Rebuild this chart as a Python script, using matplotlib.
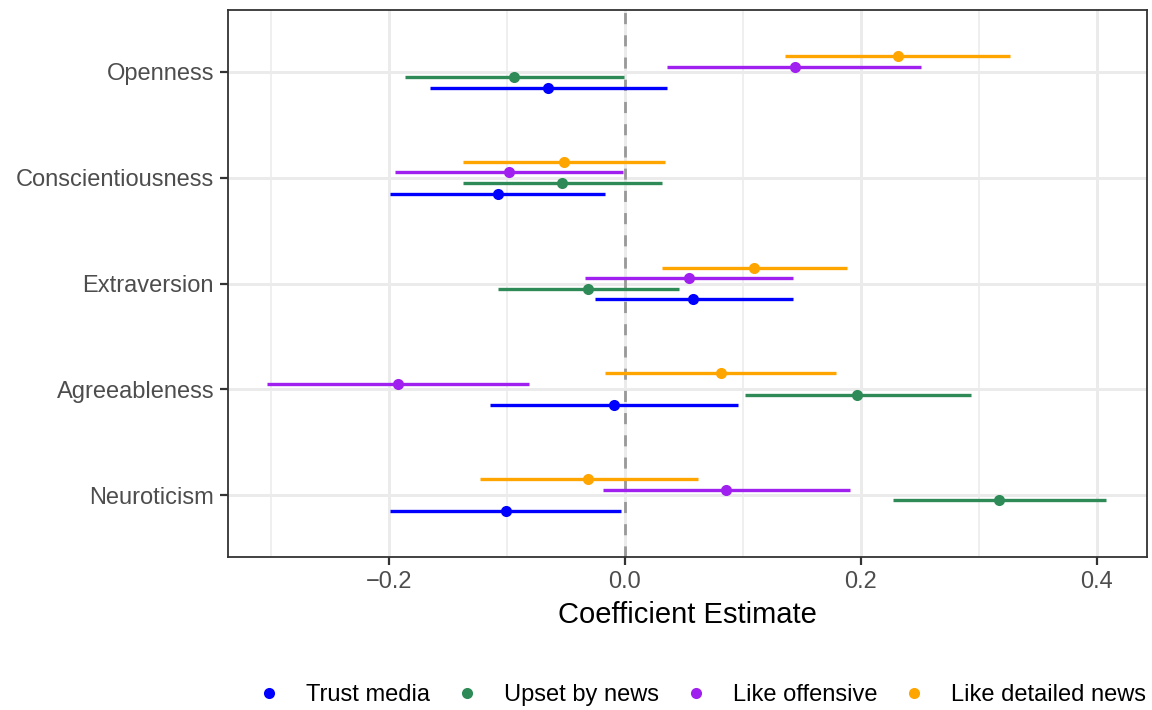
import matplotlib
matplotlib.use("Agg")
import matplotlib.pyplot as plt
from matplotlib.lines import Line2D
import numpy as np

plt.rcParams['font.family'] = ['Liberation Sans', 'DejaVu Sans']

traits = ["Openness", "Conscientiousness", "Extraversion", "Agreeableness", "Neuroticism"]
series = ["Trust media", "Upset by news", "Like offensive", "Like detailed news"]
colors = ["#0000FF", "#2E8B57", "#A020F0", "#FFA500"]

trust_est = [-0.065, -0.108, 0.058, -0.009, -0.101]
trust_lo = [-0.165, -0.199, -0.025, -0.114, -0.199]
trust_hi = [0.036, -0.017, 0.142, 0.096, -0.003]

upset_est = [-0.094, -0.053, -0.031, 0.197, 0.317]
upset_lo = [-0.186, -0.137, -0.108, 0.102, 0.227]
upset_hi = [-0.001, 0.031, 0.046, 0.293, 0.408]

offensive_est = [0.144, -0.098, 0.054, -0.192, 0.086]
offensive_lo = [0.036, -0.195, -0.034, -0.303, -0.019]
offensive_hi = [0.251, -0.002, 0.142, -0.081, 0.191]

detailed_est = [0.231, -0.052, 0.109, 0.081, -0.031]
detailed_lo = [0.136, -0.137, 0.031, -0.017, -0.123]
detailed_hi = [0.326, 0.034, 0.188, 0.179, 0.062]

est = [trust_est, upset_est, offensive_est, detailed_est]
lo = [trust_lo, upset_lo, offensive_lo, detailed_lo]
hi = [trust_hi, upset_hi, offensive_hi, detailed_hi]
offsets = [0.15, 0.05, -0.05, -0.15]

fig = plt.figure(figsize=(11.52, 7.10), dpi=100)
ax = fig.add_axes([228/1152, 1-557/710, (1147-228)/1152, (557-10)/710])

xlim = (-0.3364, 0.4424)
ax.set_xlim(*xlim)
ax.set_ylim(4.586, -0.586)

# grid
for xv in [-0.3, -0.1, 0.1, 0.3]:
    ax.axvline(xv, color="#EBEBEB", lw=1.1, zorder=0)
for xv in [-0.2, 0.0, 0.2, 0.4]:
    ax.axvline(xv, color="#EBEBEB", lw=2.1, zorder=0)
for yv in range(5):
    ax.axhline(yv, color="#EBEBEB", lw=2.1, zorder=0)

ax.axvline(0, color="#999999", lw=2.0, ls=(0, (4, 4)), zorder=1)

ypos = np.arange(len(traits))
for k in range(4):
    y = ypos + offsets[k]
    ax.hlines(y, lo[k], hi[k], color=colors[k], lw=2.4, zorder=2)
    ax.plot(est[k], y, 'o', color=colors[k], ms=8, zorder=3, mec='none')

ax.set_yticks(ypos)
ax.set_yticklabels(traits)
ax.set_xticks([-0.2, 0.0, 0.2, 0.4])
ax.set_xticklabels(["\u22120.2", "0.0", "0.2", "0.4"])
ax.tick_params(axis='both', labelsize=17, labelcolor="#4D4D4D", color="#333333",
               length=6, width=1.6)
ax.tick_params(axis='y', pad=4)
ax.tick_params(axis='x', pad=4)
for s in ax.spines.values():
    s.set_color("#333333")
    s.set_linewidth(1.3)

ax.set_xlabel("Coefficient Estimate", fontsize=21, color="black", labelpad=6)

handles = [Line2D([], [], ls='none', marker='o', color=c, ms=8, mec='none') for c in colors]
fig.legend(handles, series, loc='center', bbox_to_anchor=(0.609, 0.021), ncol=4,
           frameon=False, fontsize=17, handlelength=1.0, handletextpad=1.07,
           columnspacing=1.06, borderpad=0.0, borderaxespad=0.0)

fig.savefig("out.png", dpi=100)
